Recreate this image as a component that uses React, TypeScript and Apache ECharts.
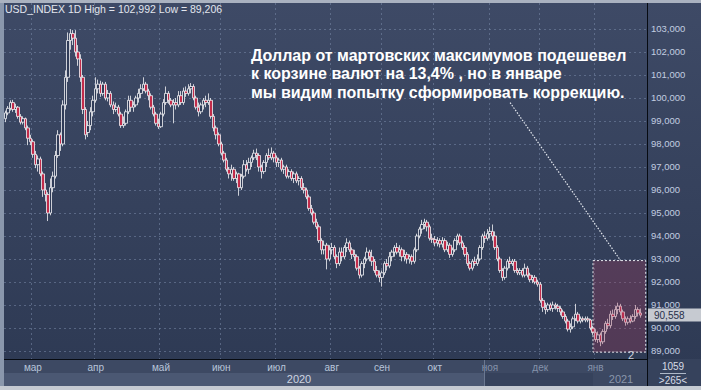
import React, { useEffect, useRef } from "react";
import * as echarts from "echarts";

type Bar = [number, number, number, number]; // [open, close, low, high]

const feb: Bar[] = [
  [99.10, 99.35, 98.95, 99.45], [99.35, 99.55, 99.25, 99.65], [99.55, 99.80, 99.45, 99.90],
  [99.80, 99.50, 99.40, 99.92], [99.50, 99.60, 99.35, 99.75], [99.60, 99.20, 99.10, 99.65],
  [99.20, 98.95, 98.85, 99.30], [98.95, 99.10, 98.85, 99.20], [99.10, 98.70, 98.60, 99.15],
  [98.70, 98.25, 97.95, 98.80], [98.25, 98.10, 97.95, 98.40],
];
const mar: Bar[] = [
  [98.10, 97.55, 97.40, 98.20], [97.55, 97.10, 96.95, 97.70], [97.10, 97.35, 96.80, 97.50],
  [97.35, 96.70, 96.60, 97.45], [96.70, 96.00, 95.70, 96.80], [96.00, 95.80, 95.50, 96.30],
  [95.80, 95.00, 94.65, 95.90], [95.00, 96.10, 94.90, 96.50], [96.10, 96.60, 95.90, 96.80],
  [96.60, 97.50, 96.50, 97.70], [97.50, 98.40, 97.40, 98.60], [98.40, 98.00, 97.70, 98.50],
  [98.00, 99.70, 97.90, 99.90], [99.70, 100.90, 99.50, 101.20], [100.90, 102.50, 100.70, 102.85],
  [102.50, 102.80, 102.10, 102.99], [102.80, 102.60, 102.30, 102.95], [102.60, 102.00, 101.80, 102.95],
  [102.00, 101.70, 101.40, 102.30], [101.70, 100.90, 100.70, 101.90], [100.90, 99.50, 99.30, 101.00],
  [99.50, 98.40, 98.20, 99.60], [98.50, 98.80, 98.30, 99.00], [98.80, 99.40, 98.60, 99.60],
  [99.40, 99.90, 99.20, 100.10],
];
const apr: Bar[] = [
  [99.90, 100.40, 99.80, 100.90], [100.40, 100.60, 100.20, 100.80], [100.60, 100.20, 100.05, 100.75],
  [100.20, 100.60, 100.10, 100.70], [100.60, 100.00, 99.90, 100.70], [100.00, 100.20, 99.85, 100.35],
  [100.20, 99.70, 99.60, 100.30], [99.70, 99.50, 99.30, 99.85], [99.50, 99.60, 99.40, 99.80],
  [99.60, 99.30, 99.20, 99.70], [99.30, 98.80, 98.70, 99.40], [98.80, 98.90, 98.70, 99.20],
  [98.90, 99.40, 98.80, 99.50], [99.40, 99.90, 99.30, 100.10], [99.90, 99.60, 99.40, 100.10],
  [99.60, 99.70, 99.40, 99.85], [99.70, 100.00, 99.60, 100.10], [100.00, 100.20, 99.80, 100.40],
  [100.20, 100.40, 100.00, 100.60], [100.40, 100.60, 100.30, 100.90], [100.60, 100.30, 100.20, 100.70],
  [100.30, 100.10, 99.90, 100.40], [100.10, 99.60, 99.50, 100.20], [99.60, 99.30, 99.20, 99.70],
  [99.30, 98.90, 98.80, 99.40], [98.90, 98.75, 98.65, 99.10],
];
const may: Bar[] = [
  [98.75, 99.30, 98.70, 99.40], [99.30, 99.80, 99.20, 99.95], [99.80, 100.20, 99.70, 100.50],
  [100.20, 99.90, 99.75, 100.30], [99.90, 99.70, 99.60, 100.00], [99.70, 99.80, 98.90, 99.95],
  [99.80, 99.70, 99.50, 100.00], [99.70, 100.10, 99.60, 100.30], [100.10, 99.80, 99.70, 100.30],
  [99.80, 100.30, 99.70, 100.45], [100.30, 100.20, 100.05, 100.50], [100.20, 100.40, 100.10, 100.60],
  [100.40, 100.50, 100.20, 100.65], [100.50, 100.00, 99.90, 100.60], [100.00, 99.60, 99.50, 100.10],
  [99.60, 99.40, 99.20, 99.80], [99.40, 99.70, 99.30, 99.80], [99.70, 99.90, 99.50, 100.00],
  [99.90, 99.80, 99.60, 100.10], [99.80, 99.90, 99.70, 100.20], [99.90, 99.20, 99.10, 100.00],
  [99.20, 98.70, 98.55, 99.30], [98.70, 98.40, 98.20, 98.80], [98.40, 98.00, 97.90, 98.50],
];
const jun: Bar[] = [
  [98.00, 97.60, 97.50, 98.10], [97.60, 97.30, 97.20, 97.70], [97.30, 96.90, 96.80, 97.40],
  [96.90, 96.70, 96.50, 97.00], [96.70, 96.90, 96.40, 97.10], [96.90, 96.50, 96.40, 97.00],
  [96.50, 96.70, 96.30, 96.80], [96.70, 96.10, 95.75, 96.75], [96.10, 96.60, 96.00, 96.70],
  [96.60, 97.10, 96.50, 97.30], [97.10, 96.90, 96.80, 97.30], [96.90, 97.20, 96.70, 97.40],
  [97.20, 97.40, 97.00, 97.50], [97.40, 97.60, 97.30, 97.75], [97.60, 97.50, 97.30, 97.80],
  [97.50, 97.00, 96.80, 97.60], [97.00, 96.80, 96.50, 97.10], [96.80, 97.20, 96.70, 97.30],
  [97.20, 97.50, 97.00, 97.60], [97.50, 97.40, 97.30, 97.80], [97.40, 97.60, 97.30, 97.85],
  [97.60, 97.40, 97.20, 97.70],
];
const jul: Bar[] = [
  [97.40, 97.20, 97.00, 97.50], [97.20, 97.30, 97.00, 97.40], [97.30, 96.90, 96.80, 97.40],
  [96.90, 97.00, 96.70, 97.10], [97.00, 96.60, 96.50, 97.10], [96.60, 96.80, 96.50, 96.90],
  [96.80, 96.50, 96.40, 96.90], [96.50, 96.70, 96.30, 96.80], [96.70, 96.40, 96.30, 96.80],
  [96.40, 96.50, 96.20, 96.60], [96.50, 96.10, 96.00, 96.60], [96.10, 96.00, 95.85, 96.30],
  [96.00, 95.70, 95.60, 96.10], [95.70, 95.20, 95.10, 95.80], [95.20, 95.00, 94.90, 95.35],
  [95.00, 94.60, 94.50, 95.10], [94.60, 94.40, 94.30, 94.75], [94.40, 93.80, 93.70, 94.50],
  [93.80, 93.40, 93.20, 93.90], [93.40, 93.60, 93.20, 93.80], [93.60, 93.00, 92.55, 93.70],
  [93.00, 93.40, 92.90, 93.60],
];
const aug: Bar[] = [
  [93.40, 93.50, 93.20, 93.70], [93.50, 93.10, 93.00, 93.60], [93.10, 92.80, 92.60, 93.20],
  [92.80, 93.30, 92.70, 93.50], [93.30, 93.10, 92.90, 93.50], [93.10, 93.50, 93.00, 93.60],
  [93.50, 93.70, 93.30, 93.90], [93.70, 93.40, 93.30, 93.80], [93.40, 93.20, 93.00, 93.50],
  [93.20, 93.10, 92.90, 93.40], [93.10, 92.60, 92.50, 93.20], [92.60, 92.30, 92.15, 92.70],
  [92.30, 92.80, 92.20, 92.90], [92.80, 93.00, 92.60, 93.10], [93.00, 93.30, 92.90, 93.50],
  [93.30, 93.10, 92.90, 93.40], [93.10, 92.90, 92.70, 93.40], [92.90, 92.50, 92.40, 93.00],
  [92.50, 92.30, 92.20, 92.70], [92.30, 92.20, 92.00, 92.50],
];
const sep: Bar[] = [
  [92.20, 92.40, 91.80, 92.50], [92.40, 92.80, 92.30, 92.90], [92.80, 92.70, 92.50, 93.00],
  [92.70, 93.10, 92.60, 93.30], [93.10, 93.30, 92.90, 93.40], [93.30, 93.50, 93.10, 93.60],
  [93.50, 93.30, 93.20, 93.70], [93.30, 93.40, 93.10, 93.60], [93.40, 93.10, 92.90, 93.50],
  [93.10, 93.20, 92.90, 93.40], [93.20, 93.00, 92.80, 93.30], [93.00, 93.10, 92.80, 93.20],
  [93.10, 92.90, 92.75, 93.20], [92.90, 93.40, 92.80, 93.50], [93.40, 94.00, 93.30, 94.10],
  [94.00, 94.30, 93.90, 94.40], [94.30, 94.50, 94.10, 94.70], [94.50, 94.60, 94.30, 94.75],
  [94.60, 94.40, 94.20, 94.70], [94.40, 93.90, 93.80, 94.50], [93.90, 93.85, 93.70, 94.10],
];
const oct: Bar[] = [
  [93.85, 93.70, 93.55, 94.00], [93.70, 93.80, 93.55, 93.95], [93.80, 93.65, 93.50, 93.90],
  [93.65, 93.80, 93.50, 93.95], [93.80, 93.40, 93.30, 93.90], [93.40, 93.60, 93.30, 93.75],
  [93.60, 93.20, 93.05, 93.70], [93.20, 93.40, 93.10, 93.50], [93.40, 93.80, 93.30, 93.90],
  [93.80, 94.00, 93.60, 94.10], [94.00, 93.70, 93.60, 94.10], [93.70, 93.50, 93.40, 93.80],
  [93.50, 93.20, 93.10, 93.60], [93.20, 92.80, 92.70, 93.30], [92.80, 92.60, 92.50, 92.90],
  [92.60, 92.90, 92.50, 93.00], [92.90, 92.80, 92.70, 93.10], [92.80, 93.00, 92.70, 93.20],
  [93.00, 93.50, 92.90, 93.60], [93.50, 94.00, 93.40, 94.10], [94.00, 93.90, 93.70, 94.20],
  [93.90, 94.10, 93.80, 94.30],
];
const nov: Bar[] = [
  [94.10, 94.20, 93.90, 94.40], [94.20, 94.00, 93.80, 94.50], [94.00, 93.50, 93.40, 94.20],
  [93.50, 93.00, 92.90, 93.60], [93.00, 92.50, 92.40, 93.10], [92.50, 92.20, 92.05, 92.60],
  [92.20, 92.60, 92.10, 92.70], [92.60, 92.90, 92.50, 93.00], [92.90, 92.80, 92.60, 93.10],
  [92.80, 92.90, 92.70, 93.00], [92.90, 92.50, 92.40, 93.00], [92.50, 92.40, 92.30, 92.60],
  [92.40, 92.50, 92.30, 92.60], [92.50, 92.30, 92.20, 92.60], [92.30, 92.60, 92.20, 92.80],
  [92.60, 92.30, 92.20, 92.70], [92.30, 92.10, 92.00, 92.40], [92.10, 92.20, 91.95, 92.30],
  [92.20, 92.00, 91.90, 92.30], [92.00, 91.90, 91.80, 92.10],
];
const dec: Bar[] = [
  [91.90, 91.20, 91.10, 92.00], [91.20, 90.90, 90.70, 91.30], [90.90, 90.80, 90.60, 91.10],
  [90.80, 91.00, 90.70, 91.10], [91.00, 90.85, 90.75, 91.10], [90.85, 91.00, 90.70, 91.15],
  [91.00, 90.95, 90.80, 91.10], [90.95, 90.85, 90.70, 91.05], [90.85, 90.70, 90.55, 90.95],
  [90.70, 90.50, 90.40, 90.80], [90.50, 90.30, 90.20, 90.60], [90.30, 89.95, 89.85, 90.40],
  [89.95, 90.05, 89.80, 90.20], [90.05, 90.40, 89.95, 90.50], [90.40, 90.60, 90.30, 91.05],
  [90.60, 90.30, 90.20, 90.70], [90.30, 90.40, 90.20, 90.50], [90.40, 90.35, 90.25, 90.50],
  [90.35, 90.40, 90.25, 90.50], [90.40, 90.35, 90.25, 90.50], [90.35, 90.00, 89.90, 90.40],
  [90.00, 89.80, 89.70, 90.10],
];
const jan: Bar[] = [
  [89.80, 89.50, 89.40, 89.95], [89.50, 89.70, 89.35, 89.85], [89.70, 89.40, 89.21, 89.80],
  [89.40, 89.85, 89.30, 89.95], [89.85, 90.20, 89.75, 90.30], [90.20, 90.10, 89.95, 90.40],
  [90.10, 90.60, 90.00, 90.75], [90.60, 90.50, 90.35, 90.80], [90.50, 90.80, 90.40, 90.95],
  [90.80, 90.95, 90.60, 91.10], [90.95, 90.70, 90.55, 91.05], [90.70, 90.40, 90.30, 90.80],
  [90.40, 90.25, 90.10, 90.50], [90.25, 90.40, 90.15, 90.50], [90.40, 90.30, 90.20, 90.55],
  [90.30, 90.50, 90.25, 90.60], [90.50, 90.80, 90.40, 91.00], [90.80, 90.65, 90.50, 90.90],
  [90.65, 90.558, 90.45, 90.85],
];

const monthBars: Bar[][] = [feb, mar, apr, may, jun, jul, aug, sep, oct, nov, dec, jan];
const monthLabels = ["", "мар", "апр", "май", "июн", "июл", "авг", "сен", "окт", "ноя", "дек", "янв"];
const dimMonths = ["ноя", "дек", "янв"];
const yTicks = [89, 90, 91, 92, 93, 94, 95, 96, 97, 98, 99, 100, 101, 102, 103];
const yearLabels = ["2020", "2021"];
const titleText = "USD_INDEX 1D High = 102,992 Low = 89,206";
const noteLines = [
  "Доллар от мартовских максимумов подешевел",
  "к корзине валют на 13,4% , но в январе",
  "мы видим попытку сформировать коррекцию.",
];
const boxTop = 92.93;
const boxBottom = 88.95;
const connectorStart = { index: 201, value: 99.8 };
const connectorEndIndex = 245;
const boxLabel = "2";
const counterTop = "1059";
const counterBottom = ">265<";
const padCount = 2;

const categories: string[] = [];
const ohlc: Bar[] = [];
const labelByCat: Record<string, string> = {};
const monthStart = new Set<number>();
monthBars.forEach((bars, m) => {
  bars.forEach((b, i) => {
    const c = `${m}-${i}`;
    if (i === 0 && monthLabels[m]) {
      monthStart.add(categories.length);
      labelByCat[c] = monthLabels[m];
    }
    categories.push(c);
    ohlc.push(b);
  });
});
const decLastIdx = categories.length - jan.length - 1;
for (let k = 0; k < padCount; k++) categories.push(`pad-${k}`);
const lastIdx = categories.length - 1;
const lastClose = ohlc[ohlc.length - 1][1];
const fmt = (v: number) => v.toFixed(3).replace(".", ",");

const FONT = '"Liberation Sans", Arial, sans-serif';

export default function App() {
  const ref = useRef<HTMLDivElement>(null);
  useEffect(() => {
    document.body.style.margin = "0";
    const chart = echarts.init(ref.current!, null, { renderer: "svg" });
    const grid = "rgba(120,136,168,0.55)";
    chart.setOption({
      animation: false,
      textStyle: { fontFamily: FONT },
      grid: { left: 4, right: 54, top: 3, bottom: 31, outerBoundsMode: "none", containLabel: false },
      xAxis: {
        type: "category",
        data: categories,
        boundaryGap: true,
        axisLine: { show: true, lineStyle: { color: "#070b12", width: 1 } },
        axisTick: { show: false },
        axisLabel: {
          interval: (i: number) => monthStart.has(i),
          formatter: (v: string) => {
            const l = labelByCat[v] || "";
            return dimMonths.includes(l) ? `{d|${l}}` : `{n|${l}}`;
          },
          margin: 3,
          rich: {
            n: { color: "#b8c5da", fontSize: 10, fontFamily: FONT },
            d: { color: "#8492aa", fontSize: 10, fontFamily: FONT },
          },
        },
        splitLine: {
          show: true,
          interval: (i: number) => monthStart.has(i),
          lineStyle: { color: grid, type: [2, 3], width: 1 },
        },
      },
      yAxis: {
        type: "value",
        position: "right",
        min: 88.652,
        max: 104.13,
        axisLine: { show: true, lineStyle: { color: "#070b12", width: 1 } },
        axisTick: { show: false, customValues: yTicks },
        axisLabel: {
          customValues: yTicks,
          formatter: (v: number) => fmt(v),
          color: "#c2cde0",
          fontSize: 9.5,
          margin: 4,
        },
        splitLine: { show: true, lineStyle: { color: grid, type: [2, 3], width: 1 } },
      },
      series: [
        {
          type: "candlestick",
          data: ohlc,
          barWidth: 3,
          z: 2,
          itemStyle: {
            color: "#2f3b57",
            color0: "#c22c4b",
            borderColor: "#f4f4f6",
            borderColor0: "#f4f4f6",
            borderWidth: 0.8,
          },
          markLine: {
            silent: true,
            symbol: "none",
            z: 12,
            lineStyle: { color: "rgba(0,0,0,0)", width: 0 },
            data: [{ yAxis: lastClose }],
            label: {
              show: true,
              position: "end",
              distance: 1,
              formatter: fmt(lastClose),
              backgroundColor: "#c6cad1",
              color: "#27304a",
              fontSize: 10,
              padding: [2, 20, 1, 6],
              fontFamily: FONT,
              opacity: 1,
            },
          },
        },
        {
          type: "line",
          data: [],
          z: 10,
          silent: true,
          markArea: {
            z: 10,
            silent: true,
            itemStyle: {
              color: "rgba(165,55,90,0.3)",
              borderColor: "#e8ebf0",
              borderWidth: 1,
              borderType: [2, 2],
            },
            data: [
              [
                { xAxis: categories[decLastIdx], yAxis: boxTop },
                { xAxis: categories[lastIdx], yAxis: boxBottom },
              ],
            ],
          },
          markLine: {
            z: 10,
            silent: true,
            symbol: "none",
            label: { show: false },
            lineStyle: { color: "#e4e8ef", type: [1.5, 1.5], width: 1.2 },
            data: [
              [
                { coord: [categories[connectorStart.index], connectorStart.value] },
                { coord: [categories[connectorEndIndex], boxTop] },
              ],
            ],
          },
        },
      ],
      graphic: [
        {
          type: "rect", z: -20, silent: true,
          shape: { x: 0, y: 0, width: 701, height: 390 },
          style: {
            fill: new echarts.graphic.LinearGradient(0, 0, 0, 1, [
              { offset: 0, color: "#3e4a66" },
              { offset: 1, color: "#2d3953" },
            ]),
          },
        },
        { type: "rect", z: -5, silent: true, shape: { x: 4, y: 360, width: 643, height: 13 }, style: { fill: "#3d4963" } },
        { type: "rect", z: -5, silent: true, shape: { x: 4, y: 373, width: 481, height: 13 }, style: { fill: "#4b5873" } },
        { type: "rect", z: -5, silent: true, shape: { x: 485, y: 373, width: 108, height: 13 }, style: { fill: "#36425c" } },
        { type: "rect", z: -5, silent: true, shape: { x: 593, y: 373, width: 54, height: 13 }, style: { fill: "#3c4862" } },
        { type: "rect", z: -5, silent: true, shape: { x: 647, y: 359, width: 54, height: 27 }, style: { fill: "#36425c" } },
        { type: "line", z: 5, silent: true, shape: { x1: 484.5, y1: 360, x2: 484.5, y2: 386 }, style: { stroke: "#6b7891", lineWidth: 1 } },
        { type: "line", z: 5, silent: true, shape: { x1: 647.5, y1: 359, x2: 647.5, y2: 386 }, style: { stroke: "#070b12", lineWidth: 1 } },
        { type: "rect", z: 5, silent: true, shape: { x: 0, y: 0, width: 4, height: 390 }, style: { fill: "#8a97ac" } },
        { type: "rect", z: 5, silent: true, shape: { x: 0, y: 0, width: 701, height: 3 }, style: { fill: "#aab2c0" } },
        { type: "rect", z: 5, silent: true, shape: { x: 0, y: 386, width: 701, height: 4 }, style: { fill: "#c5cad2" } },
        {
          type: "text", z: 20, silent: true, x: 5, y: 3,
          style: { text: titleText, fill: "#e2e6ee", font: `10.5px ${FONT}` },
        },
        {
          type: "text", z: 20, silent: true, x: 251, y: 46,
          style: { text: noteLines.join("\n"), fill: "#ffffff", font: `bold 16px ${FONT}`, lineHeight: 18.5 },
        },
        {
          type: "text", z: 20, silent: true, x: 299, y: 379,
          style: { text: yearLabels[0], fill: "#cdd4e0", font: `11px ${FONT}`, textAlign: "center", textVerticalAlign: "middle" },
        },
        {
          type: "text", z: 20, silent: true, x: 621, y: 379,
          style: { text: yearLabels[1], fill: "#8995aa", font: `11px ${FONT}`, textAlign: "center", textVerticalAlign: "middle" },
        },
        {
          type: "text", z: 20, silent: true, x: 631, y: 355,
          style: { text: boxLabel, fill: "#c8cfdb", font: `11px ${FONT}`, textAlign: "center", textVerticalAlign: "middle" },
        },
        {
          type: "text", z: 20, silent: true, x: 673, y: 366,
          style: { text: counterTop, fill: "#d6dce6", font: `10px ${FONT}`, textAlign: "center", textVerticalAlign: "middle" },
        },
        { type: "line", z: 20, silent: true, shape: { x1: 660, y1: 373.5, x2: 686, y2: 373.5 }, style: { stroke: "#aeb8c8", lineWidth: 1 } },
        {
          type: "text", z: 20, silent: true, x: 673, y: 380,
          style: { text: counterBottom, fill: "#d6dce6", font: `10px ${FONT}`, textAlign: "center", textVerticalAlign: "middle" },
        },
      ],
    });
    return () => chart.dispose();
  }, []);
  return <div ref={ref} style={{ position: "absolute", left: 0, top: 0, width: 701, height: 390 }} />;
}
